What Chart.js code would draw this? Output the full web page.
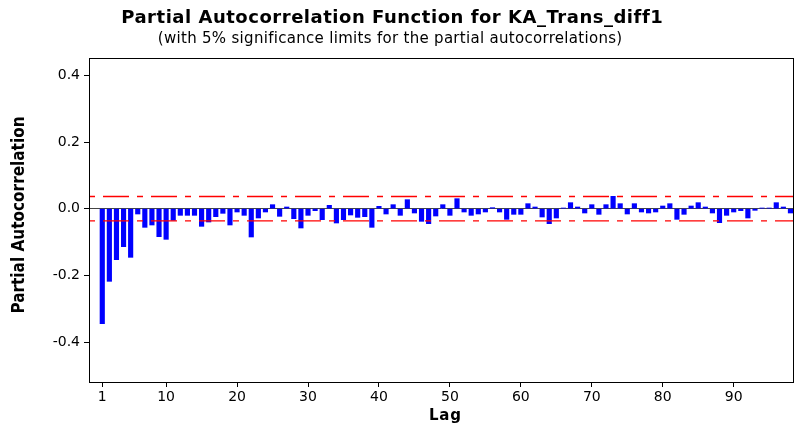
<!DOCTYPE html>
<html lang="en">
<head>
  <meta charset="UTF-8">
  <title>Partial Autocorrelation Function for KA_Trans_diff1</title>
  <style>
    body {
      margin: 0;
      background: #fff;
    }
    #wrap {
      width: 795px;
      height: 427px;
    }
  </style>
</head>
<body>
  <div id="wrap">
    <canvas id="pacfChart" width="795" height="427"></canvas>
  </div>

  <script src="https://cdn.jsdelivr.net/npm/chart.js"></script>
  <script>
    // partial autocorrelations, lag 1..98
    const lags = Array.from({ length: 98 }, (_, i) => i + 1);
    const pacf = [
      -0.345, -0.218, -0.153, -0.114, -0.146, -0.016, -0.056, -0.049, -0.084, -0.092,
      -0.035, -0.020, -0.020, -0.020, -0.053, -0.040, -0.024, -0.014, -0.049, -0.010,
      -0.020, -0.085, -0.028, -0.010, 0.012, -0.023, 0.005, -0.030, -0.058, -0.020,
      -0.006, -0.033, 0.010, -0.043, -0.033, -0.019, -0.026, -0.024, -0.056, 0.007,
      -0.016, 0.012, -0.020, 0.027, -0.013, -0.038, -0.045, -0.022, 0.012, -0.020,
      0.030, -0.010, -0.020, -0.016, -0.010, 0.003, -0.010, -0.032, -0.017, -0.017,
      0.015, 0.005, -0.025, -0.045, -0.028, 0.002, 0.018, 0.005, -0.013, 0.012,
      -0.017, 0.012, 0.037, 0.015, -0.016, 0.015, -0.010, -0.013, -0.010, 0.008,
      0.015, -0.032, -0.017, 0.008, 0.018, 0.005, -0.013, -0.042, -0.020, -0.010,
      -0.006, -0.028, -0.005, 0.002, 0.002, 0.018, 0.005, -0.013
    ];
    const sigLimit = 0.0365;
    const xTicks = [1, 10, 20, 30, 40, 50, 60, 70, 80, 90];
    const yTicks = [-0.4, -0.2, 0.0, 0.2, 0.4];
    const xMin = -0.87, xMax = 98.5;
    const yMin = -0.52, yMax = 0.452;

    const redDash = [26, 8, 6, 8];

    // draws text spread out to a given width (the original fonts run wide)
    function wideText(c, text, x, y, width) {
      c.letterSpacing = '0px';
      const w = c.measureText(text).width;
      const sp = Math.max(0, (width - w) / text.length);
      c.letterSpacing = sp.toFixed(2) + 'px';
      c.fillText(text, x + sp / 2, y);
      c.letterSpacing = '0px';
    }

    // frame round the plot, titles, axis titles
    const decor = {
      id: 'decor',
      afterDraw(chart) {
        const c = chart.ctx;
        const a = chart.chartArea;
        c.save();
        c.strokeStyle = '#000';
        c.lineWidth = 1;
        c.strokeRect(a.left + 0.5, a.top + 0.5, a.right - a.left - 1, a.bottom - a.top);
        c.fillStyle = '#000';
        c.textAlign = 'center';
        c.textBaseline = 'middle';
        c.font = 'bold 18px "DejaVu Sans"';
        wideText(c, 'Partial Autocorrelation Function for KA_Trans_diff1', 392, 18, 541);
        c.font = '15px "DejaVu Sans"';
        wideText(c, '(with 5% significance limits for the partial autocorrelations)', 390, 39, 465);
        c.font = 'bold 15px "DejaVu Sans"';
        wideText(c, 'Lag', 445, 416, 33);
        c.translate(20, 215);
        c.rotate(-Math.PI / 2);
        c.font = 'bold 17px "DejaVu Sans Condensed"';
        wideText(c, 'Partial Autocorrelation', 0, 0, 186);
        c.restore();
      }
    };

    const ctx = document.getElementById('pacfChart').getContext('2d');
    new Chart(ctx, {
      data: {
        datasets: [
          {
            type: 'bar',
            data: lags.map((l, i) => ({ x: l, y: pacf[i] })),
            backgroundColor: '#0000ff',
            barThickness: 4.5,
            order: 2
          },
          {
            type: 'line',
            data: [{ x: xMin, y: sigLimit }, { x: xMax, y: sigLimit }],
            borderColor: '#ff0000',
            borderWidth: 1.3,
            borderDash: redDash,
            borderDashOffset: 34,
            pointRadius: 0,
            order: 1
          },
          {
            type: 'line',
            data: [{ x: xMin, y: -sigLimit }, { x: xMax, y: -sigLimit }],
            borderColor: '#ff0000',
            borderWidth: 1.3,
            borderDash: redDash,
            borderDashOffset: 34,
            pointRadius: 0,
            order: 1
          }
        ]
      },
      options: {
        responsive: false,
        animation: false,
        layout: { padding: { top: 58, right: 1, left: 0, bottom: 0 } },
        plugins: {
          legend: { display: false },
          tooltip: { enabled: false }
        },
        scales: {
          x: {
            type: 'linear',
            offset: false,
            min: xMin,
            max: xMax,
            afterBuildTicks: s => { s.ticks = xTicks.map(v => ({ value: v })); },
            afterFit: s => { s.height = 45; },
            grid: { offset: false, drawOnChartArea: false, tickLength: 5, color: '#000' },
            border: { display: false },
            ticks: {
              color: '#000',
              font: { family: 'DejaVu Sans', size: 14 },
              padding: 2,
              maxRotation: 0
            }
          },
          y: {
            min: yMin,
            max: yMax,
            afterBuildTicks: s => { s.ticks = yTicks.map(v => ({ value: v })); },
            afterFit: s => { s.width = 89; },
            grid: {
              drawOnChartArea: true,
              tickLength: 5,
              color: c => (c.tick && c.tick.value === 0 ? '#444' : 'rgba(0,0,0,0)'),
              tickColor: '#000'
            },
            border: { display: false },
            ticks: {
              color: '#000',
              font: { family: 'DejaVu Sans', size: 14 },
              padding: 4,
              callback: v => v.toFixed(1)
            }
          }
        }
      },
      plugins: [decor]
    });
  </script>
</body>
</html>
